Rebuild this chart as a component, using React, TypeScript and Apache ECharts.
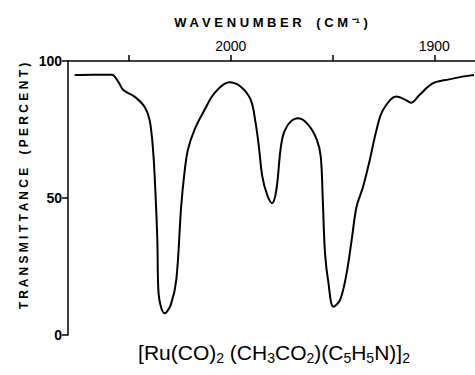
import React, { useEffect, useRef } from "react";
import * as echarts from "echarts";

const wavenumbers = [
  2076.7, 2068, 2058.5, 2055.3, 2052.8, 2047.3, 2042.4, 2039.9, 2038.2, 2037.1, 2036.1, 2035.5,
  2032.5, 2029.5, 2026.8, 2024.4, 2022.8, 2021.1, 2017.9, 2013.0, 2008.1, 2000.8, 1995.1, 1990.2,
  1987.8, 1986.2, 1984.5, 1982.1, 1979.7, 1977.6, 1975.6, 1974.0, 1970.7, 1966.7, 1961.8, 1957.7,
  1955.8, 1954.8, 1953.7, 1952.0, 1949.6, 1946.3, 1943.1, 1940.6, 1938.2, 1935.0, 1931.7, 1928.4,
  1925.2, 1918.7, 1914.6, 1911.4, 1907.3, 1900.8, 1892.7, 1886.2, 1880.5,
];
const transmittance = [
  94.9, 95.0, 95.0, 92.4, 89.4, 87.0, 83.3, 78.5, 67.5, 53.0, 34.7, 15.3,
  7.9, 11.0, 20.0, 46.8, 59.0, 67.5, 74.8, 82.0, 88.2, 92.2, 90.6, 85.8,
  77.3, 68.7, 57.8, 51.1, 48.1, 53.0, 67.5, 73.6, 77.8, 79.1, 76.6, 71.2,
  65.1, 49.3, 29.8, 18.9, 10.3, 12.8, 22.5, 34.7, 46.8, 54.1, 63.9, 74.8,
  82.1, 87.0, 86.0, 84.8, 87.6, 91.8, 93.3, 94.3, 94.9,
];
const xTicks = [2050, 2000, 1950, 1900];
const xTickLabels = [2000, 1900];
const yTicks = [0, 50, 100];
const xTitle = "W A V E N U M B E R    ( C M ⁻¹ )";
const yTitle = "T R A N S M I T T A N C E    ( P E R C E N T )";

export default function App() {
  const ref = useRef<HTMLDivElement>(null);
  useEffect(() => {
    if (!ref.current) return;
    const chart = echarts.init(ref.current, null, { renderer: "svg" });
    const font = "Liberation Sans";
    chart.setOption({
      animation: false,
      backgroundColor: "#ffffff",
      grid: { left: 68, right: 0, top: 61, bottom: 40 },
      xAxis: {
        type: "value",
        position: "top",
        inverse: true,
        min: 1880,
        max: 2080,
        axisLine: { show: true, onZero: false, lineStyle: { color: "#000", width: 1.5 } },
        axisTick: { show: true, customValues: xTicks, length: 6, lineStyle: { color: "#000", width: 1.5 } },
        axisLabel: {
          customValues: xTickLabels,
          formatter: (v: number) => String(v),
          color: "#000",
          fontFamily: font,
          fontSize: 14,
          margin: 8,
        },
        splitLine: { show: false },
      },
      yAxis: {
        type: "value",
        min: 0,
        max: 100,
        interval: 50,
        axisLine: { show: true, onZero: false, lineStyle: { color: "#000", width: 1.5 } },
        axisTick: { show: true, length: 6, lineStyle: { color: "#000", width: 1.5 } },
        axisLabel: {
          color: "#000",
          fontFamily: font,
          fontSize: 14,
          fontWeight: "bold",
          margin: 6,
          customValues: yTicks,
          formatter: (v: number) => String(v),
        },
        splitLine: { show: false },
      },
      series: [
        {
          type: "line",
          data: wavenumbers.map((w, i) => [w, transmittance[i]]),
          smooth: 0.35,
          showSymbol: false,
          lineStyle: { color: "#000", width: 2 },
        },
      ],
      graphic: [
        {
          type: "text",
          x: 271,
          y: 22,
          style: {
            text: xTitle,
            fontFamily: font,
            fontSize: 13,
            fontWeight: "bold",
            fill: "#000",
            align: "center",
            verticalAlign: "middle",
          },
        },
        {
          type: "text",
          x: 24,
          y: 186,
          rotation: Math.PI / 2,
          style: {
            text: yTitle,
            fontFamily: font,
            fontSize: 12,
            fontWeight: "bold",
            fill: "#000",
            align: "center",
            verticalAlign: "middle",
          },
        },
        {
          type: "text",
          x: 274,
          y: 352,
          style: {
            text: "{n|[Ru(CO)}{s|2}{n| (CH}{s|3}{n|CO}{s|2}{n|)(C}{s|5}{n|H}{s|5}{n|N)]}{s|2}",
            fontFamily: font,
            fill: "#000",
            align: "center",
            verticalAlign: "middle",
            rich: {
              n: { fontSize: 21, fontFamily: font, fill: "#000", lineHeight: 26, verticalAlign: "middle" },
              s: { fontSize: 14, fontFamily: font, fill: "#000", lineHeight: 26, verticalAlign: "bottom", padding: [11, 0, 0, 0] },
            },
          },
        },
      ],
    });
    return () => chart.dispose();
  }, []);
  return <div ref={ref} style={{ width: 475, height: 375, position: "absolute", left: 0, top: 0 }} />;
}
